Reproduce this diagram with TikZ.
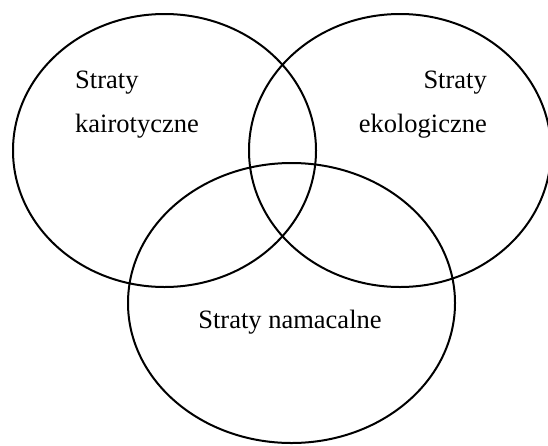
\documentclass[tikz,border=0pt]{standalone}
\usepackage{fontspec}
\setmainfont{Liberation Serif}
\usetikzlibrary{shapes.geometric}

\begin{document}
\begin{tikzpicture}
    [x=1pt, y=-1pt,
    SetNode/.style={ellipse, draw=black, line width=2pt, inner sep=0pt},
    LabelNode/.style={inner sep=0pt, font=\fontsize{26.5}{30}\selectfont}]
    \useasboundingbox (0, 0) rectangle (548, 445);
    \node[SetNode, minimum width=303pt, minimum height=273pt] (kairo) at (164.5, 150.5){};
    \node[SetNode, minimum width=302pt, minimum height=273pt] (eko) at (400, 150.5){};
    \node[SetNode, minimum width=327pt, minimum height=280pt] (nama) at (291.5, 303){};
    \node[LabelNode, anchor=base west] (kairoTop) at (75, 88){Straty};
    \node[LabelNode, anchor=base west] (kairoBot) at (75, 132){kairotyczne};
    \node[LabelNode, anchor=base east] (ekoTop) at (487, 88){Straty};
    \node[LabelNode, anchor=base east] (ekoBot) at (487, 132){ekologiczne};
    \node[LabelNode, anchor=base] (namaTxt) at (290, 328){Straty namacalne};
    \end{tikzpicture}
\end{document}
